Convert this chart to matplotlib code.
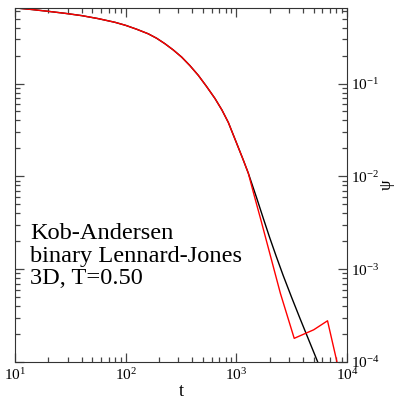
import numpy as np
import matplotlib
matplotlib.use('Agg')
import matplotlib.pyplot as plt

plt.rcParams['font.family'] = 'Liberation Serif'
plt.rcParams['mathtext.fontset'] = 'custom'
plt.rcParams['mathtext.rm'] = 'Liberation Serif'
plt.rcParams['mathtext.it'] = 'Liberation Serif:italic'

# log10(t), log10(psi)
log_t_theory = [1.0, 1.15, 1.301, 1.45, 1.602, 1.75, 1.903, 2.0, 2.1, 2.204,
                2.28, 2.355, 2.43, 2.506, 2.58, 2.656, 2.73, 2.807, 2.87,
                2.928, 3.0, 3.06, 3.108, 3.183, 3.243, 3.30, 3.36, 3.424,
                3.5, 3.575, 3.65, 3.71, 3.80]
log_psi_theory = [-0.185, -0.202, -0.222, -0.243, -0.268, -0.30, -0.34, -0.373,
                  -0.415, -0.464, -0.512, -0.571, -0.638, -0.715, -0.806,
                  -0.911, -1.03, -1.161, -1.285, -1.42, -1.635, -1.815, -1.965,
                  -2.23, -2.45, -2.655, -2.86, -3.07, -3.305, -3.53, -3.75,
                  -3.925, -4.19]

log_t_sim = [1.0, 1.15, 1.301, 1.45, 1.602, 1.75, 1.903, 2.0, 2.1, 2.204,
             2.28, 2.355, 2.43, 2.506, 2.58, 2.656, 2.73, 2.807, 2.87,
             2.928, 3.0, 3.06, 3.108, 3.16, 3.222, 3.398, 3.523, 3.699,
             3.824, 3.921]
log_psi_sim = [-0.185, -0.202, -0.222, -0.243, -0.268, -0.30, -0.34, -0.373,
               -0.415, -0.464, -0.512, -0.571, -0.638, -0.715, -0.806,
               -0.911, -1.03, -1.161, -1.285, -1.42, -1.635, -1.815, -1.965,
               -2.20, -2.47, -3.26, -3.745, -3.653, -3.556, -4.06]

t_theory = 10 ** np.array(log_t_theory)
psi_theory = 10 ** np.array(log_psi_theory)
t_sim = 10 ** np.array(log_t_sim)
psi_sim = 10 ** np.array(log_psi_sim)

fig = plt.figure(figsize=(3.94, 3.99), dpi=100)
ax = fig.add_axes([15 / 394, 37 / 399, 332 / 394, 354 / 399])

ax.plot(t_theory, psi_theory, color='black', lw=1.0)
ax.plot(t_sim, psi_sim, color='red', lw=1.0)

ax.set_xscale('log')
ax.set_yscale('log')
ax.set_xlim(10, 1e4)
ax.set_ylim(1e-4, 10 ** -0.186)

for s in ax.spines.values():
    s.set_color('#333333')

ax.yaxis.tick_right()
ax.yaxis.set_label_position('right')
ax.tick_params(which='both', direction='in', top=True, bottom=True,
               left=True, right=True, labelsize=11, color='#444444')
ax.tick_params(which='major', length=6.2, width=0.9)
ax.tick_params(which='minor', length=3.6, width=0.9)
ax.tick_params(axis='y', labelleft=False, labelright=True, pad=3)
ax.set_xticks([10, 100, 1000, 10000])
ax.set_xticklabels([r'$10^{1}$', r'$10^{2}$', r'$10^{3}$', r'$10^{4}$'])
ax.set_yticks([1e-4, 1e-3, 1e-2, 1e-1])
ax.set_yticklabels([r'$10^{-4}$', r'$10^{-3}$', r'$10^{-2}$', r'$10^{-1}$'])

ax.set_xlabel('t', fontsize=13, labelpad=0)
ax.set_ylabel('ψ', fontsize=12, labelpad=-1)

ax.text(0.045, 0.392, 'Kob-Andersen\nbinary Lennard-Jones\n3D, T=0.50',
        transform=ax.transAxes, fontsize=17.6, va='top', ha='left',
        linespacing=1.08)

fig.savefig('out.png', dpi=100)
